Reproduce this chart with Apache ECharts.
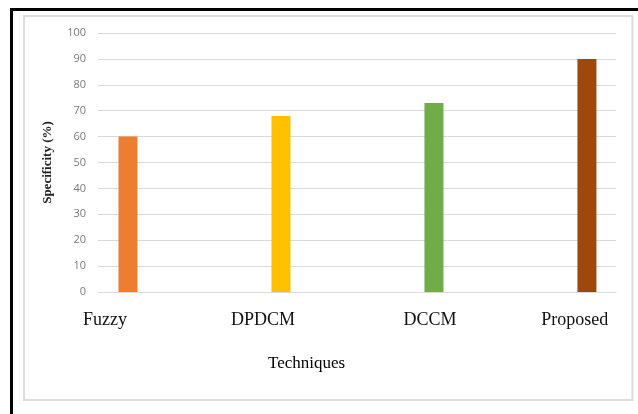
<!DOCTYPE html>
<html>
<head>
<meta charset="utf-8">
<script src="https://cdn.jsdelivr.net/npm/echarts@6/dist/echarts.min.js"></script>
<style>
    html, body { margin: 0; padding: 0; background: #fff; }
    #chart { width: 638px; height: 414px; }
</style>
</head>
<body>
<div id="chart"></div>
<script>
// data
const categories = ['Fuzzy', 'DPDCM', 'DCCM', 'Proposed'];
const specificity = [60, 68, 73, 90];
const yTicks = [0, 10, 20, 30, 40, 50, 60, 70, 80, 90, 100];

// the category names sit a little left of their bars (axis units)
const labelSpots = [-0.15, 0.882, 1.974, 2.92];
const barColors = ['#ED7D31', '#FFC000', '#70AD47', '#9E480E'];

const myChart = echarts.init(document.getElementById('chart'));

const option = {
    animation: false,
    backgroundColor: '#fff',
    title: {
        text: 'Techniques',
        left: 268,
        top: 355,
        padding: 0,
        textStyle: {
            fontFamily: 'Liberation Serif',
            fontWeight: 'normal',
            fontSize: 17,
            color: '#000',
        },
    },
    grid: {
        left: 98,
        right: 22,
        top: 33,
        bottom: 122,
    },
    xAxis: {
        type: 'value',
        min: -0.196,
        max: 3.19,
        splitLine: { show: false },
        axisTick: { show: false },
        axisLine: {
            show: true,
            lineStyle: { color: '#d9d9d9', width: 1 },
        },
        axisLabel: {
            customValues: labelSpots,
            margin: 19,
            fontFamily: 'Liberation Serif',
            fontSize: 18,
            color: '#111',
            formatter: (v) => categories[labelSpots.indexOf(v)] || '',
        },
    },
    yAxis: {
        type: 'value',
        min: yTicks[0],
        max: yTicks[yTicks.length - 1],
        interval: 10,
        name: 'Specificity (%)',
        nameLocation: 'middle',
        nameGap: 44,
        nameTextStyle: {
            fontFamily: 'Liberation Serif',
            fontWeight: 'bold',
            fontSize: 13,
            color: '#222',
        },
        axisLine: { show: false },
        axisTick: { show: false },
        splitLine: {
            lineStyle: { color: '#d9d9d9', width: 1 },
        },
        axisLabel: {
            margin: 12,
            fontFamily: 'Open Sans',
            fontSize: 11,
            color: '#7a7a7a',
        },
    },
    graphic: [
        {
            // outer black frame, cut off at right and bottom
            type: 'rect',
            silent: true,
            shape: { x: 11.5, y: 9.5, width: 660, height: 440 },
            style: { fill: 'none', stroke: '#000', lineWidth: 3 },
        },
        {
            // inner chart area border
            type: 'rect',
            silent: true,
            shape: { x: 24, y: 16, width: 608.5, height: 384 },
            style: { fill: 'none', stroke: '#dcdcdc', lineWidth: 2 },
        },
    ],
    series: [
        {
            type: 'bar',
            barWidth: 19,
            data: categories.map((c, i) => ({
                name: c,
                value: [i, specificity[i]],
                itemStyle: { color: barColors[i] },
            })),
        },
    ],
};

myChart.setOption(option);
</script>
</body>
</html>
